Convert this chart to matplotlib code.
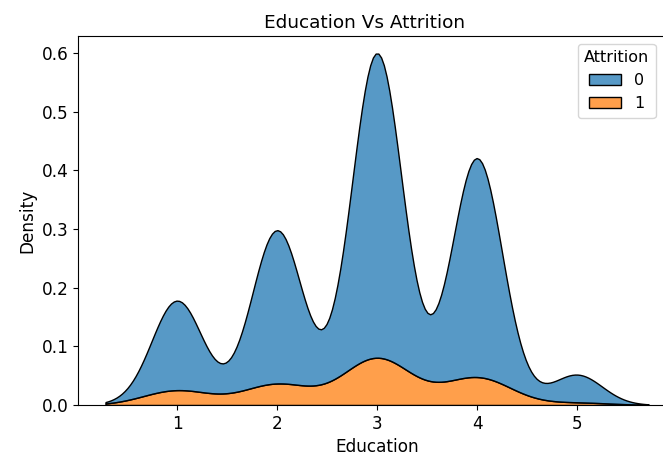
import numpy as np
import pandas as pd
import matplotlib
matplotlib.use("Agg")
import matplotlib.pyplot as plt
import seaborn as sns

# Employee counts per education level, split by attrition flag
education_levels = [1, 2, 3, 4, 5]
count_no = [139, 238, 473, 340, 43]
count_yes = [31, 44, 99, 58, 5]

df = pd.DataFrame({
    "Education": np.concatenate([np.repeat(education_levels, count_no),
                                 np.repeat(education_levels, count_yes)]),
    "Attrition": np.concatenate([np.zeros(sum(count_no), dtype=int),
                                 np.ones(sum(count_yes), dtype=int)]),
})

plt.rcParams["font.size"] = 12.2
plt.rcParams["legend.fontsize"] = 11.5
plt.rcParams["legend.title_fontsize"] = 11.5

W, H = 663, 461
fig = plt.figure(figsize=(W / 100, H / 100), dpi=100)
ax = fig.add_axes([0.12, 0.12, 0.8, 0.8])
sns.kdeplot(data=df, x="Education", hue="Attrition", multiple="stack", ax=ax)

# 100 px per education level, level 1 at x=177 px; plot spans y 36..405 px
x0, x1 = ax.get_xlim()
left_px = 177 - (1 - x0) * 100
width_px = (x1 - x0) * 100
ax.set_position([left_px / W, 1 - 405 / H, width_px / W, 369 / H])

ax.set_title("Education Vs Attrition", fontsize=13.3,
             x=(365 - left_px) / width_px)
sns.move_legend(ax, "upper right", bbox_to_anchor=(1 - 12 / width_px, 1),
                title="Attrition")

fig.savefig("out.png", dpi=100)
